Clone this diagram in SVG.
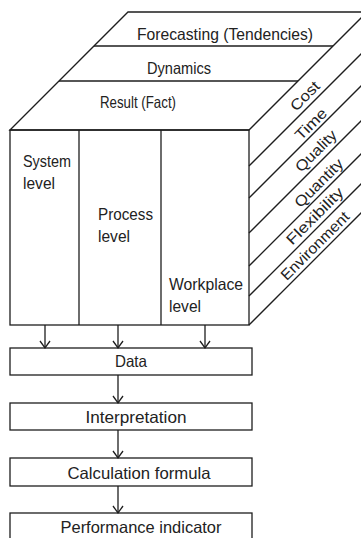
<svg xmlns="http://www.w3.org/2000/svg" width="361" height="538" viewBox="0 0 361 538">
<style>
.ln{fill:none;stroke:#1e1e1e;stroke-width:1.3;stroke-linejoin:miter}
.bx{fill:#fff;stroke:#1e1e1e;stroke-width:1.3}
.t{font-family:"Liberation Sans",Arial,sans-serif;font-size:16.5px;fill:#222}
.tm{text-anchor:middle}
.r{font-family:"Liberation Sans",Arial,sans-serif;font-size:15px;fill:#222;text-anchor:middle}
</style>
<defs>
<marker id="v" markerWidth="10" markerHeight="12" refX="8" refY="6" orient="auto" markerUnits="userSpaceOnUse" viewBox="0 0 10 12">
<polyline points="1,1 8,6 1,11" fill="none" stroke="#1e1e1e" stroke-width="1.3"/>
</marker>
</defs>
<rect width="361" height="538" fill="#fff"/>
<g id="top-face">
<polygon class="ln" points="10,130 128,12 367,12 249,130"/>
<line class="ln" x1="94" y1="46" x2="333" y2="46"/>
<line class="ln" x1="59" y1="81" x2="298" y2="81"/>
</g>
<g id="layer-forecasting"><text class="t tm" x="225" y="40" textLength="176" lengthAdjust="spacingAndGlyphs">Forecasting (Tendencies)</text></g>
<g id="layer-dynamics"><text class="t tm" x="179" y="74" textLength="64" lengthAdjust="spacingAndGlyphs">Dynamics</text></g>
<g id="layer-result"><text class="t tm" x="138" y="108" textLength="76" lengthAdjust="spacingAndGlyphs">Result (Fact)</text></g>
<g id="front-face">
<rect class="ln" x="10" y="130" width="239" height="195"/>
<line class="ln" x1="79" y1="130" x2="79" y2="325"/>
<line class="ln" x1="161" y1="130" x2="161" y2="325"/>
</g>
<g id="system-level">
<text class="t" x="23" y="167" textLength="48" lengthAdjust="spacingAndGlyphs">System</text>
<text class="t" x="23" y="189" textLength="32" lengthAdjust="spacingAndGlyphs">level</text>
</g>
<g id="process-level">
<text class="t" x="98" y="220" textLength="55" lengthAdjust="spacingAndGlyphs">Process</text>
<text class="t" x="98" y="242" textLength="32" lengthAdjust="spacingAndGlyphs">level</text>
</g>
<g id="workplace-level">
<text class="t" x="169" y="290" textLength="74" lengthAdjust="spacingAndGlyphs">Workplace</text>
<text class="t" x="169" y="312" textLength="32" lengthAdjust="spacingAndGlyphs">level</text>
</g>
<g id="right-face">
<line class="ln" x1="249" y1="166" x2="367" y2="48"/>
<line class="ln" x1="249" y1="198" x2="367" y2="80"/>
<line class="ln" x1="249" y1="233" x2="367" y2="115"/>
<line class="ln" x1="249" y1="266" x2="367" y2="148"/>
<line class="ln" x1="249" y1="296" x2="367" y2="178"/>
<line class="ln" x1="249" y1="325" x2="367" y2="207"/>
</g>
<g id="crit-cost"><text class="r" transform="translate(305,96) rotate(-45)" y="5" textLength="35" lengthAdjust="spacingAndGlyphs">Cost</text></g>
<g id="crit-time"><text class="r" transform="translate(311,124) rotate(-45)" y="5" textLength="38" lengthAdjust="spacingAndGlyphs">Time</text></g>
<g id="crit-quality"><text class="r" transform="translate(316,151) rotate(-45)" y="5" textLength="52" lengthAdjust="spacingAndGlyphs">Quality</text></g>
<g id="crit-quantity"><text class="r" transform="translate(319,183) rotate(-45)" y="5" textLength="62" lengthAdjust="spacingAndGlyphs">Quantity</text></g>
<g id="crit-flexibility"><text class="r" transform="translate(315,216) rotate(-45)" y="5" textLength="74" lengthAdjust="spacingAndGlyphs">Flexibility</text></g>
<g id="crit-environment"><text class="r" transform="translate(315,246) rotate(-45)" y="5" textLength="90" lengthAdjust="spacingAndGlyphs">Environment</text></g>
<g id="data">
<rect class="bx" x="10" y="348" width="242" height="27"/>
<text class="t tm" x="131" y="367" textLength="32" lengthAdjust="spacingAndGlyphs">Data</text>
</g>
<g id="interpretation">
<rect class="bx" x="10" y="403" width="242" height="27"/>
<text class="t tm" x="136" y="423" textLength="101" lengthAdjust="spacingAndGlyphs">Interpretation</text>
</g>
<g id="calculation-formula">
<rect class="bx" x="10" y="458" width="242" height="28"/>
<text class="t tm" x="139" y="479" textLength="143" lengthAdjust="spacingAndGlyphs">Calculation formula</text>
</g>
<g id="performance-indicator">
<rect class="bx" x="10" y="513" width="242" height="32"/>
<text class="t tm" x="141" y="533" textLength="161" lengthAdjust="spacingAndGlyphs">Performance indicator</text>
</g>
<g id="connectors">
<line class="ln" x1="45" y1="325" x2="45" y2="348" marker-end="url(#v)"/>
<line class="ln" x1="118" y1="325" x2="118" y2="348" marker-end="url(#v)"/>
<line class="ln" x1="205" y1="325" x2="205" y2="348" marker-end="url(#v)"/>
<line class="ln" x1="118" y1="375" x2="118" y2="403" marker-end="url(#v)"/>
<line class="ln" x1="118" y1="430" x2="118" y2="458" marker-end="url(#v)"/>
<line class="ln" x1="118" y1="486" x2="118" y2="513" marker-end="url(#v)"/>
</g>
</svg>
